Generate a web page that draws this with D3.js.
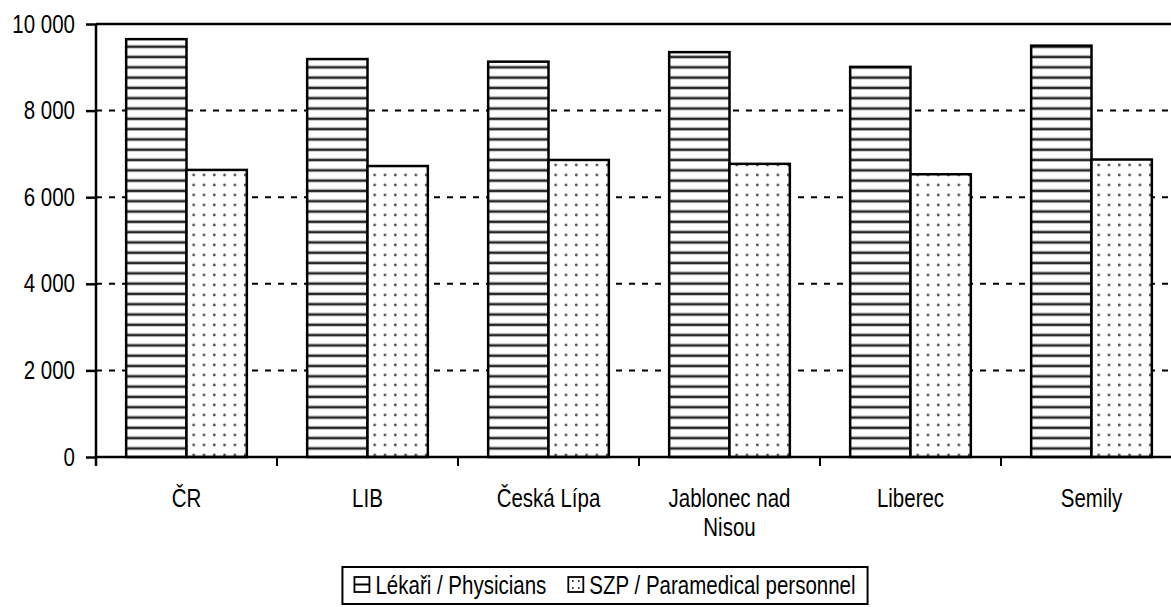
<!DOCTYPE html>
<html>
<head>
<meta charset="utf-8">
<script src="https://cdn.jsdelivr.net/npm/d3@7"></script>
<style>
  body { margin: 0; background: #fff; }
  text { font-family: "Liberation Sans", Arial, sans-serif; fill: #000; }
</style>
</head>
<body>
<div id="chart"></div>
<script>
// data
var categories = ["ČR", "LIB", "Česká Lípa", "Jablonec nad Nisou", "Liberec", "Semily"];
var seriesNames = ["Lékaři / Physicians", "SZP / Paramedical personnel"];
var physicians = [9650, 9190, 9130, 9350, 9010, 9500];
var paramedical = [6630, 6720, 6860, 6770, 6530, 6870];
var yTicks = [0, 2000, 4000, 6000, 8000, 10000];

var W = 1171, H = 607;
var mLeft = 96, mTop = 24, mBottom = 457;
var band = 181;
var squeeze = 0.82;   // narrow font look
var fontSize = "25px";

var svg = d3.select("#chart").append("svg")
  .attr("width", W).attr("height", H);

// patterns
var defs = svg.append("defs");
var stripes = defs.append("pattern")
  .attr("id", "stripes")
  .attr("patternUnits", "userSpaceOnUse")
  .attr("width", 10).attr("height", 10.3);
stripes.append("rect").attr("width", 10).attr("height", 10.3).attr("fill", "#fff");
stripes.append("rect").attr("y", 3.5).attr("width", 10).attr("height", 4).attr("fill", "#bbb");
stripes.append("rect").attr("y", 4.5).attr("width", 10).attr("height", 2).attr("fill", "#222");

var dots = defs.append("pattern")
  .attr("id", "dots")
  .attr("patternUnits", "userSpaceOnUse")
  .attr("width", 10.3).attr("height", 10);
dots.append("rect").attr("width", 10.3).attr("height", 10).attr("fill", "#fff");
dots.append("circle").attr("cx", 5).attr("cy", 5).attr("r", 1.4).attr("fill", "#555");

var fills = ["url(#stripes)", "url(#dots)"];

// scales
var x0 = d3.scaleBand()
  .domain(categories)
  .range([mLeft, mLeft + band * categories.length]);

var x1 = d3.scaleBand()
  .domain([0, 1])
  .range([0, x0.bandwidth()])
  .paddingInner(0)
  .paddingOuter(0.5);

var y = d3.scaleLinear()
  .domain([0, 10000])
  .range([mBottom, mTop]);

var fmt = function(d) { return d3.format(",")(d).replace(/,/g, " "); };

// gridlines
svg.append("g").selectAll("line")
  .data(yTicks.filter(d => d > 0))
  .enter().append("line")
  .attr("x1", mLeft).attr("x2", W)
  .attr("y1", d => y(d)).attr("y2", d => y(d))
  .attr("stroke", "#000")
  .attr("stroke-width", d => d === 10000 ? 2.5 : 2)
  .attr("stroke-dasharray", d => d === 10000 ? null : "6,7");

// bars
var rows = categories.map((c, i) => ({ cat: c, values: [physicians[i], paramedical[i]] }));

var groups = svg.append("g").selectAll("g")
  .data(rows)
  .enter().append("g")
  .attr("transform", d => "translate(" + x0(d.cat) + ",0)");

groups.selectAll("rect")
  .data(d => d.values.map((v, k) => ({ k: k, v: v })))
  .enter().append("rect")
  .attr("x", d => x1(d.k))
  .attr("y", d => y(d.v))
  .attr("width", x1.bandwidth())
  .attr("height", d => mBottom - y(d.v))
  .attr("fill", d => fills[d.k])
  .attr("stroke", "#000")
  .attr("stroke-width", 2.5);

// y axis
var yAxis = d3.axisLeft(y)
  .tickValues(yTicks)
  .tickFormat(fmt)
  .tickSize(10)
  .tickSizeOuter(0);

var gy = svg.append("g")
  .attr("transform", "translate(" + mLeft + ",0)")
  .call(yAxis);
gy.select(".domain").remove();
gy.selectAll(".tick line").attr("stroke", "#000").attr("stroke-width", 2.5);
gy.selectAll("text")
  .style("font-size", fontSize)
  .attr("fill", "#000")
  .attr("x", -21 / squeeze)
  .attr("transform", "scale(" + squeeze + ",1)");

svg.append("line")
  .attr("x1", mLeft).attr("x2", mLeft)
  .attr("y1", mTop).attr("y2", mBottom + 9)
  .attr("stroke", "#000").attr("stroke-width", 2.5);

// x axis
svg.append("line")
  .attr("x1", mLeft).attr("x2", W)
  .attr("y1", mBottom).attr("y2", mBottom)
  .attr("stroke", "#000").attr("stroke-width", 2.5);

svg.append("g").selectAll("line")
  .data(categories.slice(1))
  .enter().append("line")
  .attr("x1", d => x0(d)).attr("x2", d => x0(d))
  .attr("y1", mBottom).attr("y2", mBottom + 9)
  .attr("stroke", "#000").attr("stroke-width", 2);

var labelGroups = svg.append("g").selectAll("g")
  .data(categories)
  .enter().append("g")
  .attr("transform", d => "translate(" + (x0(d) + x0.bandwidth() / 2) + ",507) scale(" + squeeze + ",1)");

labelGroups.each(function(d) {
  var t = d3.select(this).append("text")
    .attr("text-anchor", "middle")
    .style("font-size", fontSize);
  // wrap long labels onto a second line
  var words = d.split(" ");
  var lines = [], line = [];
  words.forEach(function(w) {
    line.push(w);
    t.text(line.join(" "));
    if (t.node().getComputedTextLength() * squeeze > 150 && line.length > 1) {
      line.pop();
      lines.push(line.join(" "));
      line = [w];
    }
  });
  lines.push(line.join(" "));
  t.text(null);
  lines.forEach(function(l, i) {
    t.append("tspan")
      .attr("x", 0)
      .attr("dy", i === 0 ? 0 : 29)
      .text(l);
  });
});

// legend
var legend = svg.append("g");
var box = legend.append("rect")
  .attr("fill", "#fff")
  .attr("stroke", "#000")
  .attr("stroke-width", 2);

var items = legend.selectAll("g.item")
  .data(seriesNames)
  .enter().append("g")
  .attr("class", "item");

items.append("rect")
  .attr("width", 15).attr("height", 15)
  .attr("y", -17)
  .attr("fill", "#fff")
  .attr("stroke", "#000")
  .attr("stroke-width", 1.8);

items.filter((d, i) => i === 0).append("line")
  .attr("x1", 0).attr("x2", 15)
  .attr("y1", -9.5).attr("y2", -9.5)
  .attr("stroke", "#000").attr("stroke-width", 2);

items.filter((d, i) => i === 1).selectAll("circle")
  .data([[4.5, -13], [10.5, -13], [4.5, -6], [10.5, -6]])
  .enter().append("circle")
  .attr("cx", d => d[0]).attr("cy", d => d[1])
  .attr("r", 1).attr("fill", "#222");

items.append("text")
  .attr("transform", "translate(21,0) scale(" + squeeze + ",1)")
  .style("font-size", fontSize)
  .text(d => d);

var widths = [];
items.each(function() {
  widths.push(21 + d3.select(this).select("text").node().getComputedTextLength() * squeeze);
});
var gapItems = 22, pad = 12;
var legendW = d3.sum(widths) + gapItems * (widths.length - 1) + pad * 2;
var legendX = 605 - legendW / 2;
var cursor = legendX + pad;
items.each(function(d, i) {
  d3.select(this).attr("transform", "translate(" + cursor + ",594)");
  cursor += widths[i] + gapItems;
});
box.attr("x", legendX).attr("y", 567).attr("width", legendW).attr("height", 37);
</script>
</body>
</html>
